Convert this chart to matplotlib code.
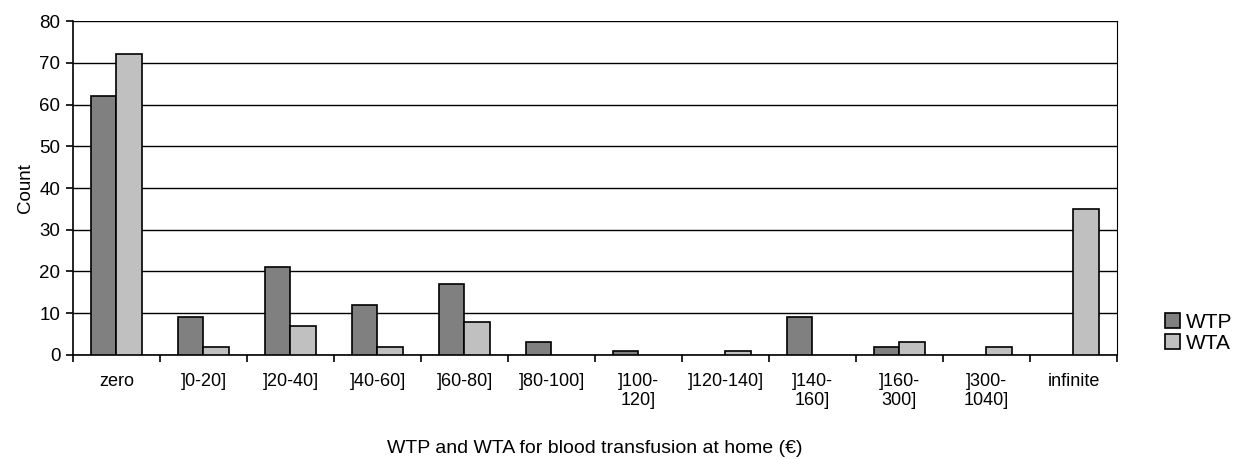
import numpy as np
import matplotlib.pyplot as plt

plt.rcParams['font.family'] = ['Liberation Sans', 'DejaVu Sans']

categorias = ['zero', ']0-20]', ']20-40]', ']40-60]', ']60-80]', ']80-100]',
              ']100-\n120]', ']120-140]', ']140-\n160]', ']160-\n300]',
              ']300-\n1040]', 'infinite']
wtp = [62, 9, 21, 12, 17, 3, 1, 0, 9, 2, 0, 0]
wta = [72, 2, 7, 2, 8, 0, 0, 1, 0, 3, 2, 35]

fig = plt.figure(figsize=(12.43, 4.59), dpi=100)
ax = fig.add_axes([0.0587, 0.2266, 0.8399, 0.7276])

x = np.arange(len(categorias))
w = 0.29
# barras con valor cero sin borde
lw_p = [1.2 if v > 0 else 0 for v in wtp]
lw_a = [1.2 if v > 0 else 0 for v in wta]
ax.bar(x - w/2, wtp, w, color='#808080', edgecolor='black', linewidth=lw_p,
       label='WTP', zorder=3)
ax.bar(x + w/2, wta, w, color='#c0c0c0', edgecolor='black', linewidth=lw_a,
       label='WTA', zorder=3)

ax.set_xlim(-0.5, len(categorias) - 0.5)
ax.set_ylim(0, 80)
ax.set_yticks(range(0, 81, 10))
ax.yaxis.grid(True, color='black', linewidth=1.0, zorder=0)
ax.set_axisbelow(True)

ax.set_xticks(np.arange(-0.5, len(categorias), 1.0))
ax.set_xticklabels([])
ax.set_xticks(x, minor=True)
ax.set_xticklabels(categorias, minor=True, fontsize=13, linespacing=1.15)
ax.tick_params(axis='x', which='minor', length=0, pad=13)
ax.tick_params(axis='x', which='major', length=5, width=1.2, direction='out')
ax.tick_params(axis='y', length=5, width=1.2, labelsize=13.5, pad=4)

for s in ['left', 'bottom']:
    ax.spines[s].set_linewidth(1.2)
ax.spines['top'].set_visible(False)
ax.spines['right'].set_linewidth(0.8)

ax.set_ylabel('Count', fontsize=13.5, labelpad=4)
ax.set_xlabel('WTP and WTA for blood transfusion at home (€)', fontsize=14,
              labelpad=22)

fig.legend(loc='center left', bbox_to_anchor=(0.9225, 0.275), frameon=False,
           fontsize=15, handlelength=0.7, handleheight=0.7, handletextpad=0.3,
           labelspacing=0.08)

plt.savefig('out.png', dpi=100)
